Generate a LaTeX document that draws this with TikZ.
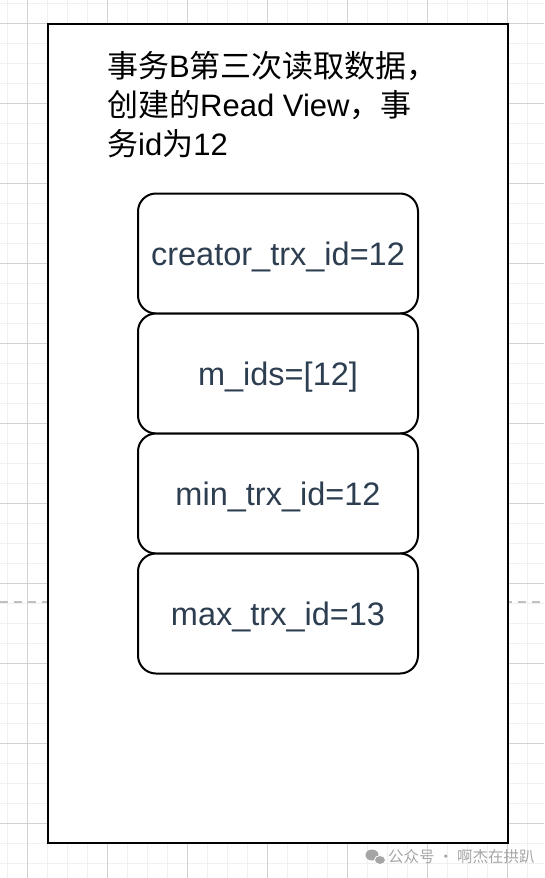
\documentclass[tikz,border=0pt]{standalone}
\usepackage{fontspec}
\setmainfont{Liberation Sans}
\newfontfamily\cjk{Noto Sans CJK SC}
\usetikzlibrary{positioning}
\definecolor{gridlight}{RGB}{240, 240, 240}
\definecolor{griddark}{RGB}{210, 210, 210}
\definecolor{splitline}{RGB}{192, 192, 192}
\definecolor{fieldtext}{RGB}{44, 62, 80}
\definecolor{marktext}{RGB}{165, 165, 165}
\tikzstyle{frame}   = [rectangle, draw=black, fill=white, line width=2pt,
                       minimum width=460pt, minimum height=819pt, inner sep=0pt]
\tikzstyle{field}   = [rectangle, rounded corners=18pt, draw=black, fill=white, line width=2pt,
                       minimum width=280pt, minimum height=120pt, outer sep=0pt,
                       text height=23pt, text depth=0pt,
                       text=fieldtext, font=\fontsize{32.5}{38}\selectfont]
\tikzstyle{caption} = [anchor=north west, align=left, inner sep=0pt,
                       font=\fontsize{31}{39}\selectfont]

\begin{document}
\begin{tikzpicture}[x=1pt, y=-1pt]
  \useasboundingbox (0,0) rectangle (544,878);

  % Background grid
  \foreach \i in {0,...,26} \draw [gridlight, line width=1pt] (7.3+20*\i,0) -- (7.3+20*\i,878);
  \foreach \j in {0,...,43} \draw [gridlight, line width=1pt] (0,3.3+20*\j) -- (544,3.3+20*\j);
  \foreach \i in {0,...,6}  \draw [griddark, line width=1pt] (27.3+80*\i,0) -- (27.3+80*\i,878);
  \foreach \j in {0,...,10} \draw [griddark, line width=1pt] (0,23.3+80*\j) -- (544,23.3+80*\j);
  \draw [splitline, line width=2pt, dash pattern=on 8pt off 6pt] (0,601.7) -- (544,601.7);

  \node (view)    [frame] at (278,433.5) {};
  \node (title)   [caption] at (107,51)
                  {{\cjk 事务}B{\cjk 第三次读取数据，}\\{\cjk 创建的}Read View{\cjk ，事}\\{\cjk 务}id{\cjk 为}12};

  % Read View fields
  \node (creator) [field] at (278,253.5) {creator\_trx\_id=12};
  \node (mids)    [field, below=0pt of creator] {m\_ids=[12]};
  \node (mintrx)  [field, below=0pt of mids]    {min\_trx\_id=12};
  \node (maxtrx)  [field, below=0pt of mintrx]  {max\_trx\_id=13};

  % Watermark
  \fill [marktext] (372,855) ellipse (6.5pt and 5.5pt);
  \filldraw [marktext, draw=white, line width=0.8pt] (380,860) ellipse (5.5pt and 4.5pt);
  \node (mark)    [anchor=west, inner sep=0pt, text=marktext, font=\cjk\fontsize{15.5}{18}\selectfont]
                  at (388,857) {公众号 · 啊杰在拱趴};
\end{tikzpicture}
\end{document}
